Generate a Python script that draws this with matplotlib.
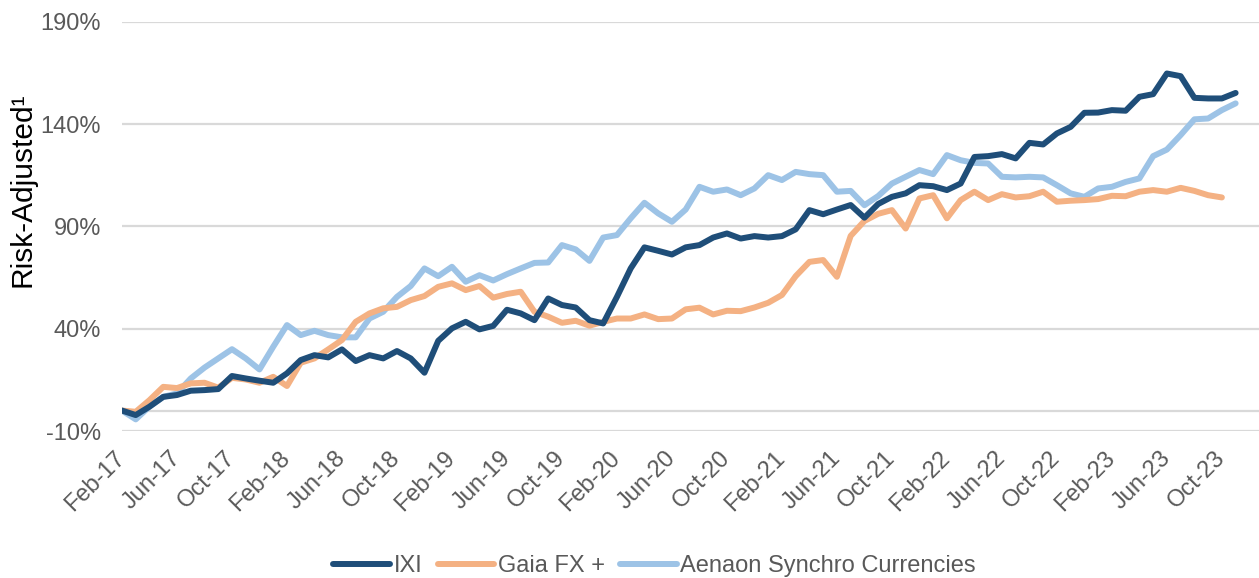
import numpy as np
import pandas as pd
import matplotlib
matplotlib.use('Agg')
import matplotlib.pyplot as plt

plt.rcParams['font.family'] = ['Liberation Sans', 'DejaVu Sans']

# monthly series, Feb-17 onwards (values in %)
ixi = [0, -2.2, 1.9, 6.7, 7.6, 9.7, 10, 10.5, 16.9, 15.7, 14.6, 13.6, 18.2,
       24.7, 27.1, 26, 29.9, 24.2, 27.1, 25.5, 29.1, 25.5, 18.5, 34.1, 40.2,
       43.4, 39.7, 41.4, 49.3, 47.5, 44.2, 54.8, 51.6, 50.4, 44.2, 42.6, 55.6,
       69.5, 79.8, 78.1, 76.3, 79.8, 80.9, 84.6, 86.6, 84.1, 85.3, 84.6, 85.3,
       88.6, 98, 96, 98.3, 100.5, 94.3, 101, 104.5, 106.2, 110.2, 109.7, 107.8,
       111, 124, 124.4, 125.4, 123.3, 130.9, 130.1, 135.5, 138.7, 145.6, 145.7,
       146.9, 146.6, 153.4, 154.7, 164.8, 163.5, 152.9, 152.6, 152.6, 155.3]

gaia = [0, -0.6, 5.1, 11.6, 11, 13.3, 13.6, 11.2, 16, 15.2, 13.6, 16.5, 12,
        23.4, 25.5, 29.9, 34.5, 43.4, 47.5, 50, 50.7, 54, 56, 60.5, 62.2, 58.9,
        60.9, 55.2, 57, 58.1, 48.3, 45.9, 42.9, 43.9, 41.5, 43.4, 45, 45, 47,
        44.7, 45, 49.5, 50.3, 47, 48.8, 48.6, 50.4, 52.7, 56.5, 65.7, 72.7,
        73.6, 65.4, 85.4, 92.7, 96.2, 98, 89, 103.7, 105.3, 94, 102.9, 107,
        102.9, 105.8, 104.2, 104.8, 107, 102.1, 102.6, 102.9, 103.4, 105, 104.8,
        107, 107.8, 107, 108.9, 107.4, 105.3, 104.2]

aenaon = [0, -4.3, 2, 6.7, 8.4, 15.7, 21, 25.5, 30, 25.5, 20.1, 31.2, 41.8,
          36.9, 39, 36.9, 35.8, 35.8, 45, 48.3, 55.6, 60.9, 69.5, 65.7, 70.3,
          63, 66.2, 63.6, 66.7, 69.5, 72.2, 72.4, 80.9, 78.8, 73.2, 84.6, 85.8,
          94, 101.6, 96.4, 92.3, 98.3, 109.4, 107, 108.1, 105.3, 108.6, 115.1,
          112.7, 116.7, 115.6, 115.1, 107, 107.4, 100.4, 104.9, 111, 114.3,
          117.6, 115.6, 124.9, 122.4, 121.1, 120.8, 114.3, 114, 114.3, 114,
          110.2, 106.2, 104.5, 108.6, 109.4, 111.8, 113.5, 124.4, 127.6, 134.7,
          142.4, 142.8, 146.9, 150.2]

months = pd.date_range('2017-02-01', periods=len(ixi), freq='MS')
month_labels = months.strftime('%b-%y')
y_ticks = [-10, 40, 90, 140, 190]

fig = plt.figure(figsize=(12.59, 5.78), dpi=100)
ax = fig.add_axes([0.0969, 0.2543, 0.9031, 0.7077])

grid_col = '#d9d9d9'
for v in y_ticks:
    ax.axhline(v, color=grid_col, lw=1.6, zorder=0)
ax.axhline(0, color=grid_col, lw=1.6, zorder=0)

ax.plot(np.arange(len(ixi)), ixi, color='#1f4e79', lw=4.3, label='IXI',
        solid_capstyle='round', zorder=3)
ax.plot(np.arange(len(gaia)), gaia, color='#f4b183', lw=4.3, label='Gaia FX +',
        solid_capstyle='round', zorder=2)
ax.plot(np.arange(len(aenaon)), aenaon, color='#9dc3e6', lw=4.3,
        label='Aenaon Synchro Currencies', solid_capstyle='round', zorder=1)

ax.set_xlim(0, 82.7)
ax.set_ylim(-10, 190)
ax.set_yticks(y_ticks)
ax.set_yticklabels([f'{v}%' for v in y_ticks])
tick_pos = np.arange(0, len(ixi), 4)
ax.set_xticks(tick_pos)
ax.set_xticklabels(month_labels[tick_pos], rotation=45, ha='right',
                   va='center', rotation_mode='anchor')
ax.tick_params(axis='both', length=0, labelsize=17, colors='#595959')
ax.tick_params(axis='x', pad=17)
ax.tick_params(axis='y', pad=15)
for s in ax.spines.values():
    s.set_visible(False)

fig.text(0.018, 1 - 190 / 578, 'Risk-Adjusted¹', rotation=90, fontsize=21.5,
         color='black', ha='center', va='center')

fig.legend(loc='lower center', ncol=3, frameon=False, fontsize=17,
           bbox_to_anchor=(0.52, -0.035), handlelength=2.4, handletextpad=0.15,
           columnspacing=0.65, labelcolor='#595959')

fig.savefig('out.png', dpi=100)
